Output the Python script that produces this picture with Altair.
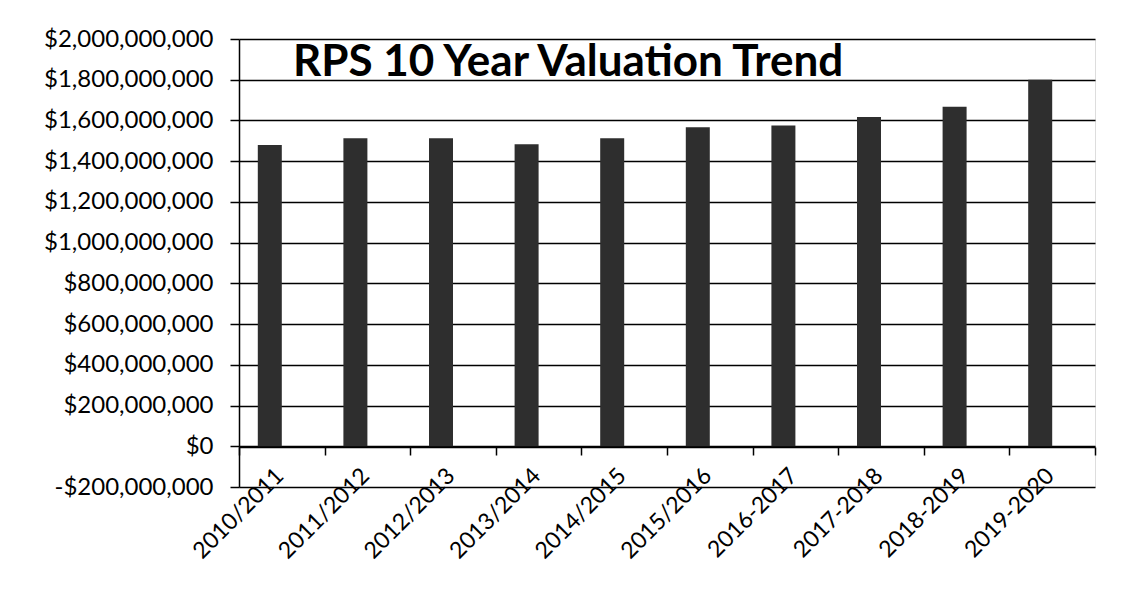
import altair as alt
import pandas as pd

years = ["2010/2011", "2011/2012", "2012/2013", "2013/2014", "2014/2015",
         "2015/2016", "2016-2017", "2017-2018", "2018-2019", "2019-2020"]
valuations = [1480000000, 1513000000, 1513000000, 1483000000, 1513000000,
              1567000000, 1575000000, 1617000000, 1667000000, 1800000000]
y_ticks = [-200000000, 0, 200000000, 400000000, 600000000, 800000000,
           1000000000, 1200000000, 1400000000, 1600000000, 1800000000, 2000000000]

df = pd.DataFrame({"year": years, "value": valuations})

FONT = "Lato"

chart = alt.Chart(df).mark_bar(
    width=24, xOffset=-12, color="#2e2e2e"
).encode(
    x=alt.X("year:N", sort=years, title=None,
            scale=alt.Scale(paddingInner=0, paddingOuter=0),
            axis=alt.Axis(offset=-40, domain=True, domainColor="black", domainWidth=1.5,
                          ticks=True, tickBand="extent", tickSize=8, tickColor="black",
                          tickWidth=1.5, labelAngle=-45, labelAlign="right",
                          labelBaseline="top", labelPadding=9, labelOffset=-10,
                          labelFont=FONT, labelFontSize=23, labelColor="black",
                          grid=False)),
    y=alt.Y("value:Q", title=None,
            scale=alt.Scale(domain=[-200000000, 2000000000], nice=False, zero=False),
            axis=alt.Axis(values=y_ticks, domain=True, domainColor="black", domainWidth=1.5,
                          ticks=True, tickSize=9, tickColor="black", tickWidth=1.5,
                          grid=True, gridColor="black", gridWidth=1.5, gridOpacity=1,
                          labelFont=FONT, labelFontSize=24, labelColor="black",
                          labelPadding=17,
                          labelExpr="datum.value < 0 ? '-$' + format(-datum.value, ',') : '$' + format(datum.value, ',')")),
).properties(
    width=856,
    height=448,
    title=alt.TitleParams("RPS 10 Year Valuation Trend", anchor="start", frame="group",
                          font=FONT, fontSize=44, fontWeight="bold", color="black",
                          dx=54, dy=93, baseline="alphabetic", offset=0),
    autosize=alt.AutoSizeParams(type="none"),
    padding={"left": 231, "top": 31, "right": 30, "bottom": 90},
).configure_view(
    stroke=None
).configure(background="white")

chart.save("out.html", embed_options={"renderer": "svg", "actions": False})
